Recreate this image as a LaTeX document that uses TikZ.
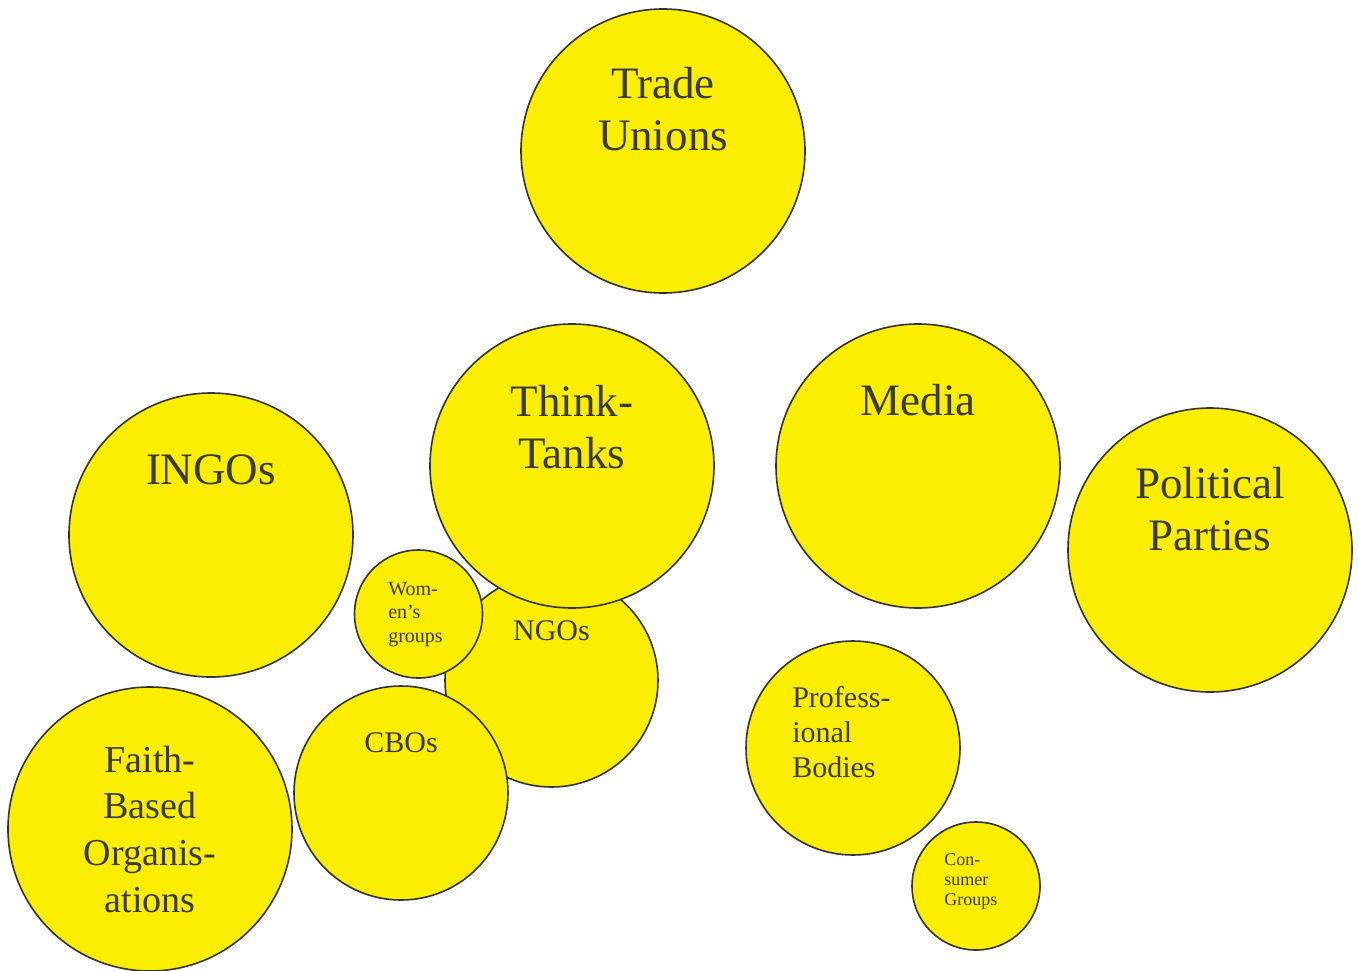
\documentclass[tikz,border=0pt]{standalone}
\usepackage{fontspec}
\setmainfont{Liberation Serif}
\definecolor{blobfill}{HTML}{FCEE00}
\definecolor{blobline}{HTML}{333333}
\definecolor{blobtext}{HTML}{3A3A3A}
\begin{document}
\begin{tikzpicture}[x=0.75pt,y=-0.75pt,
  blob/.style={circle, draw=blobline, fill=blobfill, line width=1.2pt, inner sep=0pt},
  bigc/.style={blob, minimum size=213pt},
  midc/.style={blob, minimum size=160.5pt},
  smallc/.style={blob, minimum size=96pt},
  bigt/.style={text=blobtext, font=\fontsize{33.75}{39}\selectfont, align=center, anchor=base, inner sep=0pt},
  midt/.style={text=blobtext, font=\fontsize{22.5}{26.25}\selectfont, inner sep=0pt},
  smallt/.style={text=blobtext, font=\fontsize{15}{17.6}\selectfont, align=left, anchor=base west, inner sep=0pt},
  tinyt/.style={text=blobtext, font=\fontsize{13.5}{15}\selectfont, align=left, anchor=base west, inner sep=0pt}]
\useasboundingbox (0,0) rectangle (1358,970);
% circles
\node[bigc] (tu) at (663,151) {};
\node[midc, minimum size=159.75pt] (ngo) at (551.5,680.5) {};
\node[bigc] (tt) at (572,466) {};
\node[bigc] (media) at (918,466) {};
\node[bigc] (pp) at (1210,550) {};
\node[bigc] (ingo) at (211,535) {};
\node[smallc] (wom) at (418.5,614) {};
\node[midc] (cbo) at (401,793) {};
\node[bigc] (faith) at (150,829) {};
\node[midc] (prof) at (853,748) {};
\node[smallc] (cons) at (976,886) {};
% labels (base anchor = baseline of the last line)
\node[bigt] (tu-t) at (663,151) {Trade\\Unions};
\node[bigt] (tt-t) at (572,468) {Think-\\Tanks};
\node[bigt] (media-t) at (918,415) {Media};
\node[bigt] (pp-t) at (1210,550) {Political\\Parties};
\node[bigt] (ingo-t) at (211,484) {INGOs};
\node[bigt, font=\fontsize{28.5}{35}\selectfont] (faith-t) at (150,912) {Faith-\\Based\\Organis-\\ations};
\node[midt, anchor=base] (ngo-t) at (551.5,640) {NGOs};
\node[midt, anchor=base] (cbo-t) at (401,752) {CBOs};
\node[midt, align=left, anchor=base west] (prof-t) at (792,777) {Profess-\\ional\\Bodies};
\node[smallt] (wom-t) at (388,642) {Wom-\\en’s\\groups};
\node[tinyt] (cons-t) at (944,905) {Con-\\sumer\\Groups};
\end{tikzpicture}
\end{document}
